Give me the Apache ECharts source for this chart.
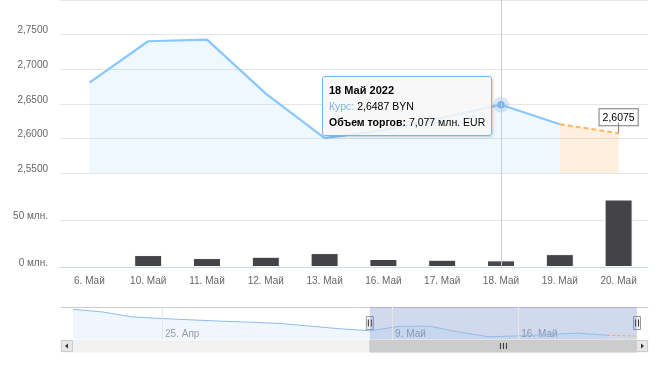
<!DOCTYPE html>
<html><head><meta charset="utf-8">
<script src="https://cdn.jsdelivr.net/npm/echarts@6/dist/echarts.min.js"></script>
<style>html,body{margin:0;padding:0;background:#fff}#c{width:662px;height:370px}</style>
</head><body><div id="c"></div>
<script>
// ---- data ----
const categories = ['6. Май','10. Май','11. Май','12. Май','13. Май','16. Май','17. Май','18. Май','19. Май','20. Май'];
const rate      = [2.6805, 2.7404, 2.7428, 2.6647, 2.6004, 2.6120, 2.6300, 2.6487, 2.6205, null];
const forecast  = [null, null, null, null, null, null, null, null, 2.6205, 2.6075];
const volume    = [null, 12.7, 9.5, 10.9, 14.8, 8.5, 7.7, 7.077, 13.7, 71.8];
const rateTicks = [2.55, 2.60, 2.65, 2.70, 2.75, 2.80];
const volTicks  = [0, 50, 100];
// navigator (earlier trading days, then the visible ones)
const navEarlyDates = ['20. Апр','21. Апр','22. Апр','25. Апр','26. Апр','27. Апр','28. Апр','29. Апр','4. Май','5. Май'];
const navEarlyRate  = [2.969, 2.933, 2.867, 2.845, 2.827, 2.809, 2.796, 2.778, 2.743, 2.707];
const navTickLabels = ['25. Апр','9. Май','16. Май'];
const navTickPos    = [3, 10.75, 15];
const highlightIndex = 7;

// ---- build ----
const font = '"Liberation Sans", Arial, sans-serif';
const blue = '#7cb5ec', orange = '#f7a35c';
const fmt4 = v => v.toFixed(4).replace('.', ',');
const fmt3 = v => v.toFixed(3).replace('.', ',');
const navDates = navEarlyDates.concat(categories);
const navRateAll = navEarlyRate.concat(rate);
const navFcAll = navEarlyRate.map(() => null).concat(forecast);
const navMain = navRateAll.map((v,i)=>[i,v]).filter(p=>p[1]!=null);
const navFc = navFcAll.map((v,i)=>[i,v]).filter(p=>p[1]!=null);
const navStart = navEarlyDates.length, navEnd = navDates.length - 1;

const lastFc = forecast.length - 1;
const fcData = forecast.map((v,i) => {
  if (v == null) return '-';
  if (i === lastFc) return {
    value: v, symbol: 'circle', symbolSize: 1, itemStyle: {color: orange},
    label: {
      show: true, position: 'top', distance: 0,
      formatter: '{b|' + fmt4(v) + '}\n{s| }',
      rich: {
        b: {backgroundColor: '#fff', borderColor: '#7a7a7a', borderWidth: 1, padding: [3,3,2,3],
            fontSize: 10.5, lineHeight: 11, color: '#000', fontFamily: font, align: 'center'},
        s: {width: 1, height: 10, backgroundColor: '#7a7a7a', align: 'center', fontSize: 1, lineHeight: 10}
      }
    }
  };
  return v;
});

const yLabel = {color: '#666', fontSize: 10, fontFamily: font, margin: 12, showMaxLabel: false,
  verticalAlign: 'bottom', lineHeight: 8};

const chart = echarts.init(document.getElementById('c'));
const option = {
  animation: false,
  axisPointer: {link: [{xAxisIndex: [0, 1]}]},
  tooltip: {
    trigger: 'axis', triggerOn: 'none', alwaysShowContent: true, transitionDuration: 0,
    axisPointer: {type: 'line', lineStyle: {color: '#cccccc', width: 1}, label: {show: false}},
    backgroundColor: 'rgba(247,247,247,0.85)', borderColor: blue, borderWidth: 1, padding: [5, 6],
    textStyle: {color: '#333', fontSize: 10.5, fontFamily: font},
    extraCssText: 'box-shadow:1px 1px 3px rgba(0,0,0,0.18);border-radius:3px;line-height:16px;',
    formatter: params => {
      const i = params[0].dataIndex;
      const title = categories[i].replace('.', '') + ' 2022';
      return '<div style="font-weight:bold;color:#000;font-size:11px">' + title + '</div>' +
        '<div><span style="color:' + blue + '">Курс:</span> <span style="color:#000">' + fmt4(rate[i]) + ' BYN</span></div>' +
        '<div style="color:#000"><b>Объем торгов:</b> ' + fmt3(volume[i]) + ' млн. EUR</div>';
    },
    position: () => {
      const p = chart.convertToPixel({xAxisIndex: 0, yAxisIndex: 0}, [highlightIndex, rate[highlightIndex]]);
      return [p[0] - 179, p[1] - 29];
    }
  },
  grid: [
    {left: 60, right: 14, top: 0, height: 173},
    {left: 60, right: 14, top: 173, height: 94},
    {left: 61, right: 14, top: 307, height: 32}
  ],
  xAxis: [
    {gridIndex: 0, type: 'category', data: categories, boundaryGap: true, show: false},
    {gridIndex: 1, type: 'category', data: categories, boundaryGap: true,
     axisLine: {lineStyle: {color: '#ccd6eb'}},
     axisTick: {alignWithLabel: true, length: 8, lineStyle: {color: '#ccd6eb'}},
     axisLabel: {color: '#666', fontSize: 10, fontFamily: font, margin: 9}},
    {gridIndex: 2, type: 'value', min: -0.404, max: 19.37, position: 'bottom',
     axisLine: {show: false}, axisTick: {show: false}, splitLine: {show: false},
     axisLabel: {inside: true, customValues: navTickPos, color: '#999', fontSize: 10, fontFamily: font,
       align: 'left', margin: 0, padding: [0,0,0,3], verticalAlign: 'bottom',
       formatter: v => { const k = navTickPos.indexOf(v); return k >= 0 ? navTickLabels[k] : ''; }}},
    {gridIndex: 2, type: 'value', min: -0.404, max: 19.37, position: 'top',
     axisLine: {show: true, lineStyle: {color: '#cccccc'}}, axisTick: {show: false},
     axisLabel: {show: false}, splitLine: {show: false}}
  ],
  yAxis: [
    {gridIndex: 0, type: 'value', min: rateTicks[0], max: rateTicks[rateTicks.length-1], interval: 0.05,
     axisLine: {show: false}, axisTick: {show: false},
     splitLine: {lineStyle: {color: '#e6e6e6'}},
     axisLabel: Object.assign({formatter: v => fmt4(v)}, yLabel)},
    {gridIndex: 1, type: 'value', min: volTicks[0], max: volTicks[volTicks.length-1], interval: 50,
     axisLine: {show: false}, axisTick: {show: false},
     splitLine: {lineStyle: {color: '#e6e6e6'}},
     axisLabel: Object.assign({formatter: v => v + ' млн.'}, yLabel)},
    {gridIndex: 2, type: 'value', min: 2.57, max: 3.0, show: false}
  ],
  series: [
    {name: 'Курс', type: 'line', xAxisIndex: 0, yAxisIndex: 0, data: rate.map(v => v == null ? '-' : v),
     showSymbol: false, symbol: 'circle', symbolSize: 7, itemStyle: {color: blue},
     emphasis: {scale: false},
     lineStyle: {color: blue, width: 2.2}, areaStyle: {color: 'rgba(124,181,236,0.19)', origin: 'start'},
     markLine: {silent: true, symbol: 'none', label: {show: false}, lineStyle: {color: '#cccccc', width: 1, type: 'solid'},
       data: [{xAxis: highlightIndex}]},
     markPoint: {silent: true, animation: false, label: {show: false},
       data: [
         {coord: [highlightIndex, rate[highlightIndex]], symbol: 'circle', symbolSize: 16, itemStyle: {color: 'rgba(124,181,236,0.3)'}},
         {coord: [highlightIndex, rate[highlightIndex]], symbol: 'circle', symbolSize: 7, itemStyle: {color: blue}}
       ]}},
    {name: 'Прогноз', type: 'line', xAxisIndex: 0, yAxisIndex: 0, data: fcData,
     showSymbol: true, symbol: 'none', z: 3,
     lineStyle: {color: orange, width: 2, type: [5, 3]}, areaStyle: {color: 'rgba(247,163,92,0.3)', origin: 'start'}},
    {name: 'Объем', type: 'bar', xAxisIndex: 1, yAxisIndex: 1, data: volume.map(v => v == null ? '-' : v),
     barWidth: 28, itemStyle: {color: '#434348', borderColor: '#ffffff', borderWidth: 1},
     markLine: {silent: true, symbol: 'none', label: {show: false}, lineStyle: {color: '#cccccc', width: 1, type: 'solid'},
       data: [{xAxis: highlightIndex}]}},
    {name: 'nav', type: 'line', xAxisIndex: 2, yAxisIndex: 2, data: navMain, showSymbol: false, silent: true,
     lineStyle: {color: '#8fbcec', width: 1}, areaStyle: {color: 'rgba(124,181,236,0.18)', origin: 'start'},
     markLine: {silent: true, symbol: 'none', label: {show: false}, lineStyle: {color: '#e6e6e6', width: 1, type: 'solid'},
       data: navTickPos.map(p => ({xAxis: p}))},
     markArea: {silent: true, itemStyle: {color: 'rgba(102,133,194,0.3)'},
       data: [[{xAxis: navStart}, {xAxis: navEnd}]]}},
    {name: 'navFc', type: 'line', xAxisIndex: 2, yAxisIndex: 2, data: navFc, showSymbol: false, silent: true,
     lineStyle: {color: orange, width: 1, type: [3, 2]}}
  ]
};
chart.setOption(option);

// navigator handles & scrollbar tied to the navigator scale
const xs = chart.convertToPixel({xAxisIndex: 2}, navStart);
const xe = chart.convertToPixel({xAxisIndex: 2}, navEnd);
const gl = 61, gr = 662 - 14, sbY = 340, sbH = 12, hy = 323;
function handle(x) {
  return {type: 'group', children: [
    {type: 'rect', shape: {x: x - 3.5, y: hy - 6.5, width: 7, height: 13}, style: {fill: '#f2f2f2', stroke: '#999', lineWidth: 1}},
    {type: 'line', shape: {x1: x - 1.5, y1: hy - 3.5, x2: x - 1.5, y2: hy + 3.5}, style: {stroke: '#333', lineWidth: 1}},
    {type: 'line', shape: {x1: x + 1.5, y1: hy - 3.5, x2: x + 1.5, y2: hy + 3.5}, style: {stroke: '#333', lineWidth: 1}}
  ]};
}
const cx = (xs + xe) / 2, cy = sbY + sbH / 2;
chart.setOption({graphic: [
  {type: 'rect', silent: true, shape: {x: gl, y: sbY, width: gr - gl, height: sbH}, style: {fill: '#f2f2f2', stroke: '#f2f2f2'}},
  {type: 'rect', silent: true, shape: {x: xs, y: sbY, width: xe - xs, height: sbH}, style: {fill: '#cccccc', stroke: '#cccccc'}},
  {type: 'line', silent: true, shape: {x1: cx - 3, y1: cy - 3, x2: cx - 3, y2: cy + 3}, style: {stroke: '#333', lineWidth: 1}},
  {type: 'line', silent: true, shape: {x1: cx, y1: cy - 3, x2: cx, y2: cy + 3}, style: {stroke: '#333', lineWidth: 1}},
  {type: 'line', silent: true, shape: {x1: cx + 3, y1: cy - 3, x2: cx + 3, y2: cy + 3}, style: {stroke: '#333', lineWidth: 1}},
  {type: 'rect', silent: true, shape: {x: gl + 0.5, y: sbY + 0.5, width: 11, height: sbH - 1}, style: {fill: '#e6e6e6', stroke: '#cccccc'}},
  {type: 'polygon', silent: true, shape: {points: [[gl + 4, cy], [gl + 7, cy - 2.5], [gl + 7, cy + 2.5]]}, style: {fill: '#333'}},
  {type: 'rect', silent: true, shape: {x: gr - 11.5, y: sbY + 0.5, width: 11, height: sbH - 1}, style: {fill: '#e6e6e6', stroke: '#cccccc'}},
  {type: 'polygon', silent: true, shape: {points: [[gr - 4, cy], [gr - 7, cy - 2.5], [gr - 7, cy + 2.5]]}, style: {fill: '#333'}},
  handle(xs), handle(xe)
]});

chart.dispatchAction({type: 'showTip', seriesIndex: 0, dataIndex: highlightIndex});
</script></body></html>
